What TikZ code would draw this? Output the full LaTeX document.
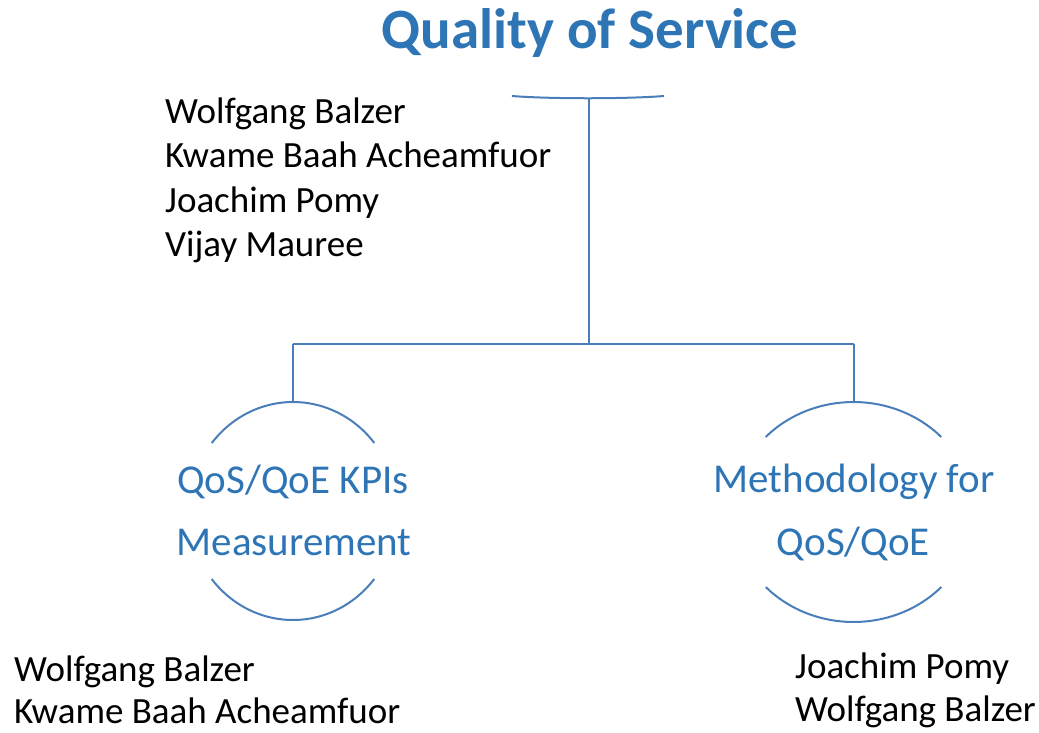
\documentclass[tikz,border=0pt]{standalone}
\usepackage{fontspec}
\setmainfont{Carlito}
\definecolor{ttl}{HTML}{2E75B6}
\definecolor{ln}{HTML}{4A7EBB}
\begin{document}
\begin{tikzpicture}[x=1pt,y=-1pt,
  conn/.style={draw=ln,line width=2pt},
  person/.style={anchor=base west,inner sep=0,font=\fontsize{37}{37}\selectfont,text=black},
  topic/.style={anchor=base,inner sep=0,font=\fontsize{41}{41}\selectfont,text=ttl},
  heading/.style={anchor=base,inner sep=0,font=\fontsize{57}{57}\selectfont\bfseries,text=ttl}]
\useasboundingbox (0,0) rectangle (1039,732);
% title
\node[heading] (title) at (590,48.5) {Quality of Service};
% top bracket
\coordinate (tl) at (512,96);
\coordinate (tr) at (664,96);
\coordinate (tc) at (589,98);
\draw[conn] (tl) .. controls (550,99) and (626,99) .. (tr);
\coordinate (hub) at (589,344);
\coordinate (lb) at (293,344);
\coordinate (rb) at (854,344);
\coordinate (ltop) at (293,402);
\coordinate (rtop) at (854,402);
\draw[conn] (tc) -- (hub);
\draw[conn] (lb) -- (rb);
\draw[conn] (lb) -- (ltop);
\draw[conn] (rb) -- (rtop);
% left circle
\coordinate (la) at (211.8,443);
\coordinate (lc) at (374.2,579);
\draw[conn] (la) arc[start angle=218.6,end angle=321.4,x radius=104,y radius=109];
\draw[conn] (lc) arc[start angle=38.6,end angle=141.4,x radius=104,y radius=109];
% right circle
\coordinate (ra) at (765.7,437);
\coordinate (rc) at (941.3,587);
\draw[conn] (ra) arc[start angle=223,end angle=317,x radius=120,y radius=110];
\draw[conn] (rc) arc[start angle=43,end angle=137,x radius=120,y radius=110];
% topic labels
\node[topic] (l1) at (293,493) {QoS/QoE KPIs};
\node[topic] (l2) at (294,555) {Measurement};
\node[topic] (r1) at (854,492) {Methodology for};
\node[topic] (r2) at (853.5,555) {QoS/QoE};
% people
\node[person] (p1) at (165,123.3) {Wolfgang Balzer};
\node[person] (p2) at (165,167.8) {Kwame Baah Acheamfuor};
\node[person] (p3) at (165,212.5) {Joachim Pomy};
\node[person] (p4) at (165,256.8) {Vijay Mauree};
\node[person] (q1) at (14,681.5) {Wolfgang Balzer};
\node[person] (q2) at (14,723.5) {Kwame Baah Acheamfuor};
\node[person] (s1) at (795,678.5) {Joachim Pomy};
\node[person] (s2) at (795,721.7) {Wolfgang Balzer};
\end{tikzpicture}
\end{document}
